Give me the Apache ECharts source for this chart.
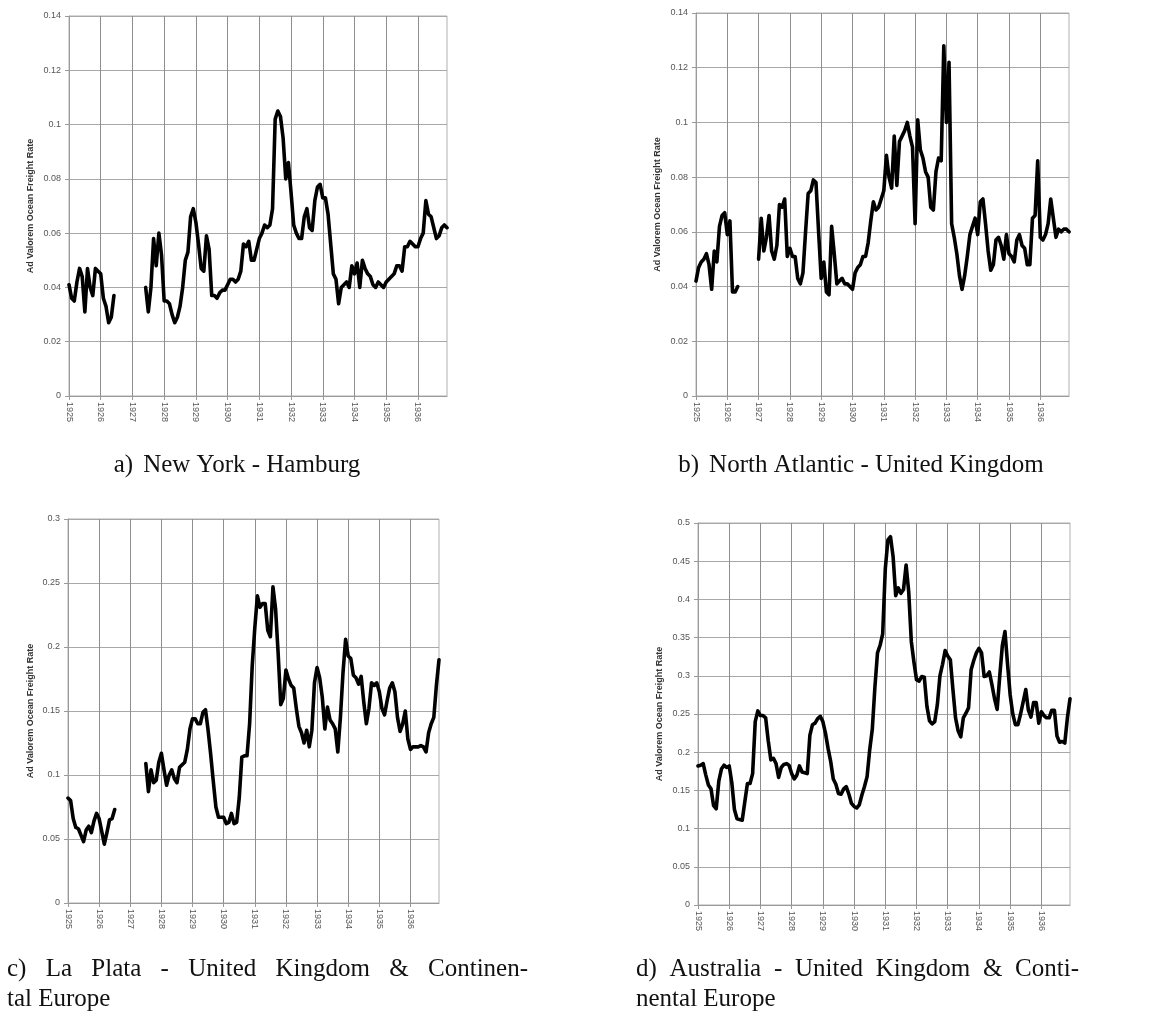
<!DOCTYPE html>
<html>
<head>
<meta charset="utf-8">
<title>Ad valorem ocean freight rates</title>
<script src="https://cdn.jsdelivr.net/npm/echarts@6/dist/echarts.min.js"></script>
<style>
html, body { margin: 0; padding: 0; background: #fff; }
#main { width: 1154px; height: 1016px; }
</style>
</head>
<body>
<div id="main"></div>
<script>
// years on the x axis, one point per month
var years = ['1925', '1926', '1927', '1928', '1929', '1930', '1931', '1932', '1933', '1934', '1935', '1936'];

// a) New York - Hamburg
var nyHamburg = [
  0.041, 0.036, 0.035, 0.042, 0.047, 0.044, 0.031, 0.047, 0.040, 0.037, 0.047, 0.046,
  0.045, 0.036, 0.033, 0.027, 0.029, 0.037, null, null, null, null, null, null,
  null, null, null, null, null, 0.040, 0.031, 0.040, 0.058, 0.048, 0.060, 0.052,
  0.035, 0.035, 0.034, 0.030, 0.027, 0.029, 0.033, 0.040, 0.050, 0.053, 0.066, 0.069,
  0.064, 0.056, 0.047, 0.046, 0.059, 0.054, 0.037, 0.037, 0.036, 0.038, 0.039, 0.039,
  0.041, 0.043, 0.043, 0.042, 0.043, 0.046, 0.056, 0.055, 0.057, 0.050, 0.050, 0.054,
  0.058, 0.060, 0.063, 0.062, 0.063, 0.069, 0.102, 0.105, 0.103, 0.095, 0.080, 0.086,
  0.075, 0.063, 0.060, 0.058, 0.058, 0.066, 0.069, 0.062, 0.061, 0.072, 0.077, 0.078,
  0.073, 0.073, 0.067, 0.056, 0.045, 0.043, 0.034, 0.040, 0.041, 0.042, 0.040, 0.048,
  0.045, 0.049, 0.040, 0.050, 0.047, 0.045, 0.044, 0.041, 0.040, 0.042, 0.041, 0.040,
  0.042, 0.043, 0.044, 0.045, 0.048, 0.048, 0.046, 0.055, 0.055, 0.057, 0.056, 0.055,
  0.055, 0.058, 0.060, 0.072, 0.067, 0.066, 0.062, 0.058, 0.059, 0.062, 0.063, 0.062
];

// b) North Atlantic - United Kingdom
var northAtlantic = [
  0.042, 0.047, 0.049, 0.050, 0.052, 0.048, 0.039, 0.053, 0.049, 0.062, 0.066, 0.067,
  0.059, 0.064, 0.038, 0.038, 0.040, null, null, null, null, null, null, null,
  0.050, 0.065, 0.053, 0.058, 0.066, 0.053, 0.050, 0.055, 0.070, 0.069, 0.072, 0.051,
  0.054, 0.051, 0.051, 0.043, 0.041, 0.045, 0.060, 0.074, 0.075, 0.079, 0.078, 0.060,
  0.043, 0.049, 0.038, 0.037, 0.062, 0.052, 0.041, 0.042, 0.043, 0.041, 0.041, 0.040,
  0.039, 0.045, 0.047, 0.048, 0.051, 0.051, 0.056, 0.064, 0.071, 0.068, 0.069, 0.072,
  0.075, 0.088, 0.080, 0.076, 0.095, 0.077, 0.093, 0.095, 0.097, 0.100, 0.095, 0.091,
  0.063, 0.101, 0.090, 0.087, 0.082, 0.080, 0.069, 0.068, 0.082, 0.087, 0.086, 0.128,
  0.100, 0.122, 0.063, 0.058, 0.052, 0.044, 0.039, 0.044, 0.051, 0.059, 0.062, 0.065,
  0.059, 0.071, 0.072, 0.063, 0.053, 0.046, 0.048, 0.057, 0.058, 0.055, 0.050, 0.059,
  0.052, 0.051, 0.049, 0.057, 0.059, 0.055, 0.054, 0.048, 0.048, 0.065, 0.066, 0.086,
  0.058, 0.057, 0.059, 0.063, 0.072, 0.065, 0.058, 0.061, 0.060, 0.061, 0.061, 0.060
];

// c) La Plata - United Kingdom & Continental Europe
var laPlata = [
  0.082, 0.080, 0.066, 0.059, 0.058, 0.053, 0.048, 0.057, 0.060, 0.055, 0.064, 0.070,
  0.066, 0.056, 0.046, 0.055, 0.065, 0.066, 0.073, null, null, null, null, null,
  null, null, null, null, null, null, 0.109, 0.087, 0.104, 0.094, 0.096, 0.110,
  0.117, 0.104, 0.092, 0.100, 0.104, 0.097, 0.094, 0.106, 0.108, 0.110, 0.120, 0.136,
  0.144, 0.144, 0.140, 0.140, 0.149, 0.151, 0.135, 0.116, 0.095, 0.075, 0.067, 0.067,
  0.067, 0.062, 0.063, 0.070, 0.062, 0.063, 0.082, 0.114, 0.115, 0.115, 0.140, 0.185,
  0.215, 0.240, 0.231, 0.234, 0.234, 0.213, 0.208, 0.247, 0.230, 0.195, 0.155, 0.160,
  0.182, 0.175, 0.170, 0.168, 0.152, 0.138, 0.133, 0.125, 0.135, 0.122, 0.135, 0.172,
  0.184, 0.176, 0.161, 0.136, 0.153, 0.143, 0.140, 0.136, 0.118, 0.145, 0.180, 0.206,
  0.193, 0.191, 0.178, 0.176, 0.171, 0.177, 0.157, 0.140, 0.152, 0.172, 0.170, 0.172,
  0.165, 0.152, 0.147, 0.158, 0.168, 0.172, 0.165, 0.145, 0.134, 0.140, 0.150, 0.128,
  0.120, 0.122, 0.122, 0.122, 0.123, 0.122, 0.118, 0.133, 0.140, 0.145, 0.170, 0.190
];

// d) Australia - United Kingdom & Continental Europe
var australia = [
  0.182, 0.183, 0.185, 0.170, 0.157, 0.152, 0.130, 0.126, 0.162, 0.178, 0.183, 0.180,
  0.182, 0.160, 0.125, 0.113, 0.112, 0.111, 0.135, 0.159, 0.159, 0.172, 0.240, 0.254,
  0.248, 0.248, 0.245, 0.215, 0.190, 0.192, 0.185, 0.167, 0.180, 0.184, 0.185, 0.183,
  0.172, 0.165, 0.170, 0.182, 0.174, 0.173, 0.172, 0.222, 0.236, 0.238, 0.244, 0.247,
  0.240, 0.225, 0.205, 0.188, 0.165, 0.158, 0.146, 0.145, 0.152, 0.155, 0.145, 0.133,
  0.129, 0.127, 0.131, 0.144, 0.155, 0.168, 0.203, 0.230, 0.285, 0.330, 0.340, 0.355,
  0.440, 0.478, 0.482, 0.456, 0.405, 0.415, 0.408, 0.413, 0.445, 0.410, 0.345, 0.318,
  0.295, 0.293, 0.299, 0.298, 0.260, 0.241, 0.237, 0.240, 0.262, 0.300, 0.315, 0.333,
  0.326, 0.321, 0.282, 0.245, 0.228, 0.220, 0.245, 0.251, 0.258, 0.308, 0.320, 0.330,
  0.336, 0.330, 0.299, 0.300, 0.305, 0.288, 0.270, 0.256, 0.300, 0.340, 0.358, 0.315,
  0.275, 0.250, 0.236, 0.236, 0.250, 0.266, 0.282, 0.255, 0.246, 0.265, 0.265, 0.238,
  0.253, 0.248, 0.245, 0.245, 0.255, 0.255, 0.221, 0.213, 0.214, 0.212, 0.245, 0.270
];

var yMax = [0.14, 0.14, 0.3, 0.5];
var yStep = [0.02, 0.02, 0.05, 0.05];

// month categories, only the January of each year gets a label
var months = [];
years.forEach(function (y) {
  for (var m = 1; m <= 12; m++) months.push(y + '-' + m);
});

var grids = [
  { left: 69, top: 16, width: 378, height: 380 },
  { left: 696, top: 13, width: 373, height: 383 },
  { left: 68, top: 519, width: 371, height: 384 },
  { left: 698, top: 523, width: 372, height: 382 }
];
var nameGaps = [34, 34, 33, 34];

var xAxes = [], yAxes = [], series = [];
var allData = [nyHamburg, northAtlantic, laPlata, australia];

grids.forEach(function (g, i) {
  g.show = true;
  g.borderColor = '#b0b0b0';
  g.borderWidth = 1;
  xAxes.push({
    type: 'category',
    gridIndex: i,
    data: months,
    boundaryGap: false,
    axisLine: { lineStyle: { color: '#9a9a9a' } },
    axisTick: { show: true, interval: 11, length: 4, lineStyle: { color: '#9a9a9a' } },
    axisLabel: {
      interval: 11,
      rotate: -90,
      fontSize: 9,
      fontFamily: 'Liberation Sans',
      color: '#555',
      margin: 6,
      formatter: function (v) { return v.slice(0, 4); }
    },
    splitLine: { show: true, interval: 11, lineStyle: { color: '#8e8e8e', width: 1 } }
  });
  yAxes.push({
    type: 'value',
    gridIndex: i,
    min: 0,
    max: yMax[i],
    interval: yStep[i],
    name: 'Ad Valorem Ocean Freight Rate',
    nameLocation: 'middle',
    nameGap: nameGaps[i],
    nameRotate: 90,
    nameTextStyle: { fontSize: 9, color: '#333', fontWeight: 'bold', fontFamily: 'Liberation Sans' },
    axisLine: { show: true, lineStyle: { color: '#9a9a9a' } },
    axisTick: { show: true, length: 4, lineStyle: { color: '#9a9a9a' } },
    axisLabel: { fontSize: 9, color: '#555', margin: 8, fontFamily: 'Liberation Sans' },
    splitLine: { lineStyle: { color: '#a8a8a8' } }
  });
  series.push({
    type: 'line',
    xAxisIndex: i,
    yAxisIndex: i,
    data: allData[i],
    showSymbol: false,
    connectNulls: false,
    lineStyle: { color: '#000', width: 3.6, join: 'round', cap: 'round' },
    silent: true
  });
});

// sub-figure captions, serif like the paper; long ones are justified lines
var captionFont = '25px "Liberation Serif", "DejaVu Serif", serif';
var measureCtx = document.createElement('canvas').getContext('2d');
measureCtx.font = captionFont;
function textWidth(t) { return measureCtx.measureText(t).width; }

var graphics = [];
// y is the middle of the text line
function addText(t, x, y) {
  graphics.push({
    type: 'text',
    x: x,
    y: y,
    silent: true,
    style: { text: t, font: captionFont, fill: '#111', align: 'left', verticalAlign: 'middle' }
  });
}
function centeredCaption(label, rest, cx, y) {
  var gap = 10;
  var total = textWidth(label) + gap + textWidth(rest);
  var x = cx - total / 2;
  addText(label, x, y);
  addText(rest, x + textWidth(label) + gap, y);
}
function justifiedLine(words, x0, x1, y) {
  var sum = 0;
  words.forEach(function (w) { sum += textWidth(w); });
  var gap = (x1 - x0 - sum) / (words.length - 1);
  var x = x0;
  words.forEach(function (w) {
    addText(w, x, y);
    x += textWidth(w) + gap;
  });
}

centeredCaption('a)', 'New York - Hamburg', 237, 465);
centeredCaption('b)', 'North Atlantic - United Kingdom', 861, 465);
justifiedLine(['c)', 'La', 'Plata', '-', 'United', 'Kingdom', '&', 'Continen-'], 7, 528, 969);
addText('tal Europe', 7, 999);
justifiedLine(['d)', 'Australia', '-', 'United', 'Kingdom', '&', 'Conti-'], 636, 1079, 969);
addText('nental Europe', 636, 999);

var myChart = echarts.init(document.getElementById('main'));
var option = {
  backgroundColor: '#fff',
  animation: false,
  grid: grids,
  xAxis: xAxes,
  yAxis: yAxes,
  series: series,
  graphic: graphics
};
myChart.setOption(option);
window.onresize = function () {
  myChart.resize();
};
</script>
</body>
</html>
